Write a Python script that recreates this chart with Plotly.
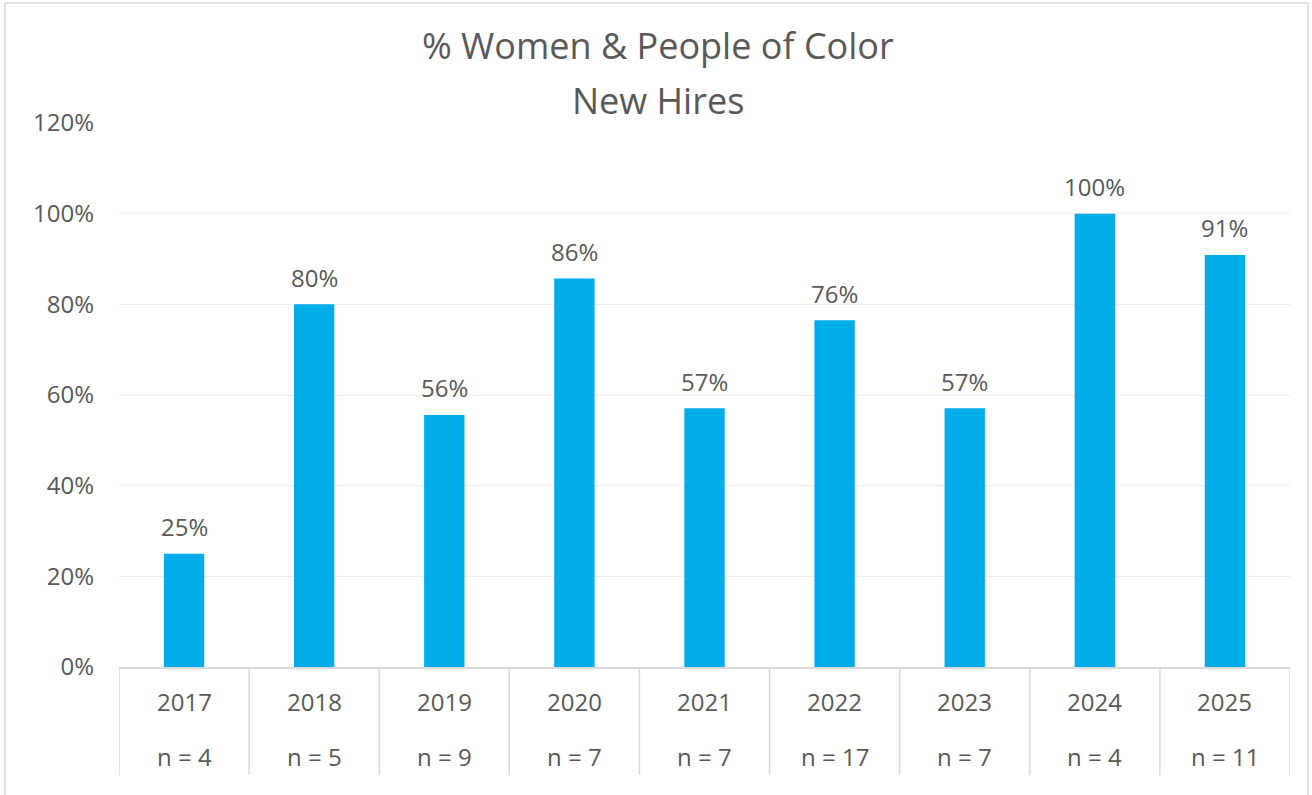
import plotly.graph_objects as go

years = ["2017", "2018", "2019", "2020", "2021", "2022", "2023", "2024", "2025"]
pct = [0.25, 0.80, 0.556, 0.857, 0.571, 0.765, 0.571, 1.00, 0.909]
pct_labels = ["25%", "80%", "56%", "86%", "57%", "76%", "57%", "100%", "91%"]
n_labels = ["n = 4", "n = 5", "n = 9", "n = 7", "n = 7", "n = 17", "n = 7", "n = 4", "n = 11"]
title_lines = ["% Women & People of Color", "New Hires"]

W, H = 1312, 795
ML, MR, MT, MB = 119, 22, 123, 128
PW, PH = W - ML - MR, H - MT - MB

FONT = "Open Sans"
TXT = "#595959"
BAR = "#00ACE9"
GRID = "#EDEDED"
AXIS = "#D9D9D9"

def px_to_paper_x(px):
    return (px - ML) / PW

def px_to_paper_y(py):
    return (H - MB - py) / PH

fig = go.Figure()
fig.add_trace(go.Bar(x=years, y=pct, marker=dict(color=BAR, line=dict(width=0)),
                     hoverinfo="skip"))

ann = []
for i, (v, lab) in enumerate(zip(pct, pct_labels)):
    ann.append(dict(x=i, y=v, xref="x", yref="y", text=lab, showarrow=False,
                    yanchor="middle", yshift=27, font=dict(size=24, color=TXT, family=FONT)))
for i, (yr, nl) in enumerate(zip(years, n_labels)):
    ann.append(dict(x=i, y=0, xref="x", yref="paper", text=yr, showarrow=False,
                    yanchor="middle", yshift=-34, font=dict(size=24, color=TXT, family=FONT)))
    ann.append(dict(x=i, y=0, xref="x", yref="paper", text=nl, showarrow=False,
                    yanchor="middle", yshift=-89, font=dict(size=24, color=TXT, family=FONT)))
# title lines, centred on the whole chart width
title_px = [45, 101]
for t, py in zip(title_lines, title_px):
    ann.append(dict(x=px_to_paper_x(W / 2 + 2), xref="paper", y=px_to_paper_y(py), yref="paper",
                    text=t, showarrow=False, yanchor="middle", xanchor="center",
                    font=dict(size=36, color=TXT, family=FONT)))

shapes = []
for i in range(len(years) + 1):
    shapes.append(dict(type="line", xref="x", yref="paper", x0=i - 0.5, x1=i - 0.5,
                       y0=0, y1=-108 / PH, line=dict(color=AXIS, width=1.5)))
# chart border (left, top, right)
bx0, bx1, by0, by1 = px_to_paper_x(5), px_to_paper_x(1308), px_to_paper_y(3), px_to_paper_y(H + 5)
for (x0, y0, x1, y1) in [(bx0, by1, bx0, by0), (bx0, by0, bx1, by0), (bx1, by0, bx1, by1)]:
    shapes.append(dict(type="line", xref="paper", yref="paper", x0=x0, y0=y0, x1=x1, y1=y1,
                       line=dict(color=AXIS, width=1.5)))

fig.update_layout(
    width=W, height=H,
    margin=dict(l=ML, r=MR, t=MT, b=MB, autoexpand=False),
    paper_bgcolor="white", plot_bgcolor="white",
    showlegend=False, bargap=0.69,
    annotations=ann, shapes=shapes,
    font=dict(family=FONT, color=TXT, size=24),
)
fig.update_xaxes(type="category", showticklabels=False, ticks="", showgrid=False,
                 showline=True, linecolor=AXIS, linewidth=1.5, range=[-0.5, len(years) - 0.5])
fig.update_yaxes(range=[0, 1.2], dtick=0.2, tickformat=".0%", showgrid=True, gridcolor=GRID,
                 gridwidth=1.2, zeroline=False, showline=False, ticks="",
                 ticklabelstandoff=24, tickfont=dict(size=24, color=TXT, family=FONT))

fig.write_html("out.html", config={"displayModeBar": False},
               post_script="document.body.style.margin='0px';document.body.style.overflow='hidden';")
